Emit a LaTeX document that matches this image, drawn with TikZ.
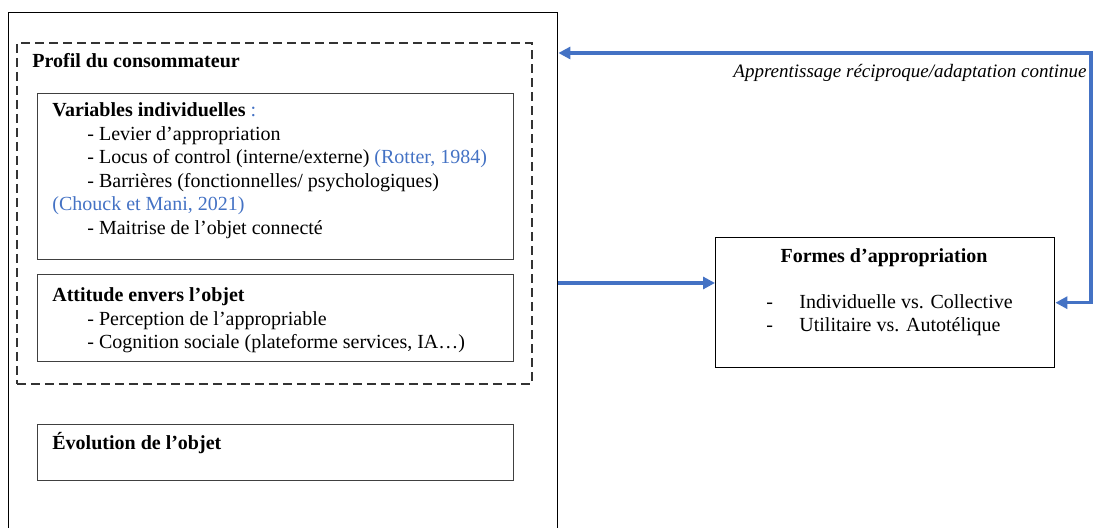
\documentclass[tikz,border=0pt]{standalone}
\usepackage{fontspec}
\setmainfont{Liberation Serif}
\usepackage{xcolor}
\usepackage{tikz}
\usetikzlibrary{positioning,arrows.meta}

\definecolor{linkblue}{HTML}{4472C4}

\begin{document}
\begin{tikzpicture}[x=0.5pt,y=-0.5pt,
    box/.style={draw=black!75, line width=0.5pt, anchor=north west, inner sep=0pt},
    txt/.style={anchor=base west, inner sep=0pt, align=left,
                font=\fontsize{10}{11.75}\selectfont},
    arr/.style={linkblue, line width=1.6pt, -{Triangle[length=6pt,width=6pt]}},
    dblarr/.style={linkblue, line width=1.6pt,
                   {Triangle[length=6pt,width=6pt]}-{Triangle[length=6pt,width=6pt]}}]
    \useasboundingbox (0,0) rectangle (1094,528);

    \node[box, draw=black, line width=0.7pt, minimum width=274.5pt, minimum height=268pt] (outer) at (8,12) {};
    \node[box, draw=black!80, line width=0.8pt, dash pattern=on 4.5pt off 2.5pt,
          minimum width=257.5pt, minimum height=170.5pt] (profil) at (16,42) {};
    \node[box, minimum width=238pt, minimum height=83pt] (var) at (37,93) {};
    \node[box, minimum width=238pt, minimum height=43.5pt] (attitude) at (37,274) {};
    \node[box, minimum width=238pt, minimum height=28pt] (evol) at (37,424) {};
    \node[box, draw=black, line width=0.7pt, minimum width=169.5pt, minimum height=65pt] (formes) at (715,237) {};

    % base anchor = baseline of the last line
    \node[txt] (profiltitle) at (32,68) {\textbf{Profil du consommateur}};
    \node[txt] (vartext) at (52,234.5) {\textbf{Variables individuelles} \textcolor{linkblue}{:}\\
        \hspace*{17.5pt}- Levier d’appropriation\\
        \hspace*{17.5pt}- Locus of control (interne/externe) \textcolor{linkblue}{(Rotter, 1984)}\\
        \hspace*{17.5pt}- Barrières (fonctionnelles/ psychologiques)\\
        \textcolor{linkblue}{(Chouck et Mani, 2021)}\\
        \hspace*{17.5pt}- Maitrise de l’objet connecté};
    \node[txt] (atttext) at (52,349) {\textbf{Attitude envers l’objet}\\
        \hspace*{17.5pt}- Perception de l’appropriable\\
        \hspace*{17.5pt}- Cognition sociale (plateforme services, IA…)};
    \node[txt] (evoltext) at (52,450) {\textbf{Évolution de l’objet}};

    \node[txt, anchor=base] (formestitle) at (884,263) {\textbf{Formes d’appropriation}};
    \node[txt] (formestext) at (766,332) {\makebox[16.5pt][l]{-}Individuelle vs. Collective\\
        \makebox[16.5pt][l]{-}Utilitaire vs. Autotélique};

    \coordinate (rcorner) at (1091,53);
    \coordinate (midy) at (0,283);
    \draw[dblarr] (outer.east |- rcorner) -- (rcorner) |- (formes.east);
    \draw[arr] (outer.east |- midy) -- (formes.west |- midy);
    \node[txt, anchor=base east, font=\fontsize{9.5}{11.75}\selectfont\itshape] (learn) at (1087,78)
        {Apprentissage réciproque/adaptation continue};
\end{tikzpicture}
\end{document}
